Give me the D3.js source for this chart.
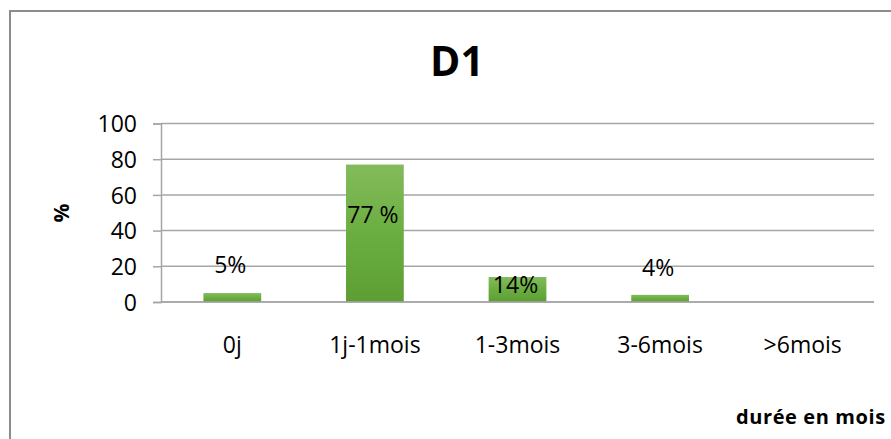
<!DOCTYPE html>
<html>
<head>
<meta charset="utf-8">
<script src="https://cdn.jsdelivr.net/npm/d3@7"></script>
<style>
  html, body { margin: 0; padding: 0; background: #fff; }
  svg { display: block; font-family: "Open Sans", sans-serif; }
</style>
</head>
<body>
<svg id="chart" width="891" height="439"></svg>
<script>
// Durée (D1) : répartition en pourcentage
const categories = ["0j", "1j-1mois", "1-3mois", "3-6mois", ">6mois"];
const values = [5, 77, 14, 4, 0];
const valueLabels = ["5%", "77 %", "14%", "4%", ""];
const yTicks = [0, 20, 40, 60, 80, 100];

const FONT = "'Open Sans', sans-serif";
const svg = d3.select("#chart");
const plot = { left: 161, right: 874, top: 123.5, bottom: 302 };

// outer chart frame (runs off the right and bottom edges)
svg.append("rect")
  .attr("x", 10).attr("y", 11)
  .attr("width", 920).attr("height", 460)
  .attr("fill", "#fff").attr("stroke", "#8c8c8c").attr("stroke-width", 2);

// vertical green gradient used by every bar
const grad = svg.append("defs").append("linearGradient")
  .attr("id", "barGrad").attr("x1", 0).attr("y1", 0).attr("x2", 0).attr("y2", 1);
grad.append("stop").attr("offset", "0%").attr("stop-color", "#83bb5c");
grad.append("stop").attr("offset", "50%").attr("stop-color", "#6bae40");
grad.append("stop").attr("offset", "100%").attr("stop-color", "#5c9e33");

const x = d3.scaleBand()
  .domain(categories)
  .range([plot.left, plot.right])
  .paddingInner(0.595)
  .paddingOuter(0.2975);

const y = d3.scaleLinear()
  .domain([0, 100])
  .range([plot.bottom, plot.top]);

// horizontal gridlines
svg.append("g")
  .selectAll("line")
  .data(yTicks)
  .join("line")
  .attr("x1", plot.left).attr("x2", plot.right)
  .attr("y1", d => y(d)).attr("y2", d => y(d))
  .attr("stroke", "#a6a6a6").attr("stroke-width", 1.5);

// y axis with outside tick marks
const yAxis = svg.append("g")
  .attr("transform", `translate(${plot.left},0)`)
  .call(d3.axisLeft(y).tickValues(yTicks).tickSize(8).tickPadding(16));
yAxis.select(".domain").attr("stroke", "#a6a6a6").attr("stroke-width", 1.5);
yAxis.selectAll(".tick line").attr("stroke", "#a6a6a6").attr("stroke-width", 1.5);
yAxis.selectAll(".tick text")
  .attr("font-family", FONT)
  .attr("font-size", 23).attr("fill", "#000").attr("dy", "0.36em");

// bars
svg.append("g")
  .selectAll("rect")
  .data(categories.map((c, i) => ({ c, v: values[i] })))
  .join("rect")
  .attr("x", d => x(d.c))
  .attr("width", x.bandwidth())
  .attr("y", d => y(d.v))
  .attr("height", d => y(0) - y(d.v))
  .attr("fill", "url(#barGrad)");

// zero line drawn over the bars
svg.append("line")
  .attr("x1", plot.left).attr("x2", plot.right)
  .attr("y1", y(0)).attr("y2", y(0))
  .attr("stroke", "#a6a6a6").attr("stroke-width", 1.5);

// category labels
svg.append("g")
  .selectAll("text")
  .data(categories)
  .join("text")
  .attr("x", d => x(d) + x.bandwidth() / 2)
  .attr("y", 353)
  .attr("text-anchor", "middle")
  .attr("font-size", 23)
  .attr("fill", "#000")
  .text(d => d);

// data labels: baseline offset from the top of each bar
const labelDy = [-20, 58, 16, -19, 0];
svg.append("g")
  .selectAll("text")
  .data(categories.map((c, i) => ({ c, v: values[i], t: valueLabels[i], dy: labelDy[i] })))
  .join("text")
  .attr("x", d => x(d.c) + x.bandwidth() / 2 - 2)
  .attr("y", d => y(d.v) + d.dy)
  .attr("text-anchor", "middle")
  .attr("font-size", 23)
  .attr("fill", "#000")
  .text(d => d.t);

// title
svg.append("text")
  .attr("x", 457)
  .attr("y", 76)
  .attr("text-anchor", "middle")
  .attr("font-size", 41)
  .attr("font-weight", "bold")
  .attr("fill", "#000")
  .text("D1");

// y axis title
svg.append("text")
  .attr("transform", "translate(69,213) rotate(-90)")
  .attr("text-anchor", "middle")
  .attr("font-size", 21)
  .attr("font-weight", "bold")
  .attr("fill", "#000")
  .text("%");

// x axis title
svg.append("text")
  .attr("x", 736)
  .attr("y", 424)
  .attr("font-size", 20)
  .attr("font-weight", "bold")
  .attr("letter-spacing", 0.6)
  .attr("fill", "#000")
  .text("durée en mois");
</script>
</body>
</html>
